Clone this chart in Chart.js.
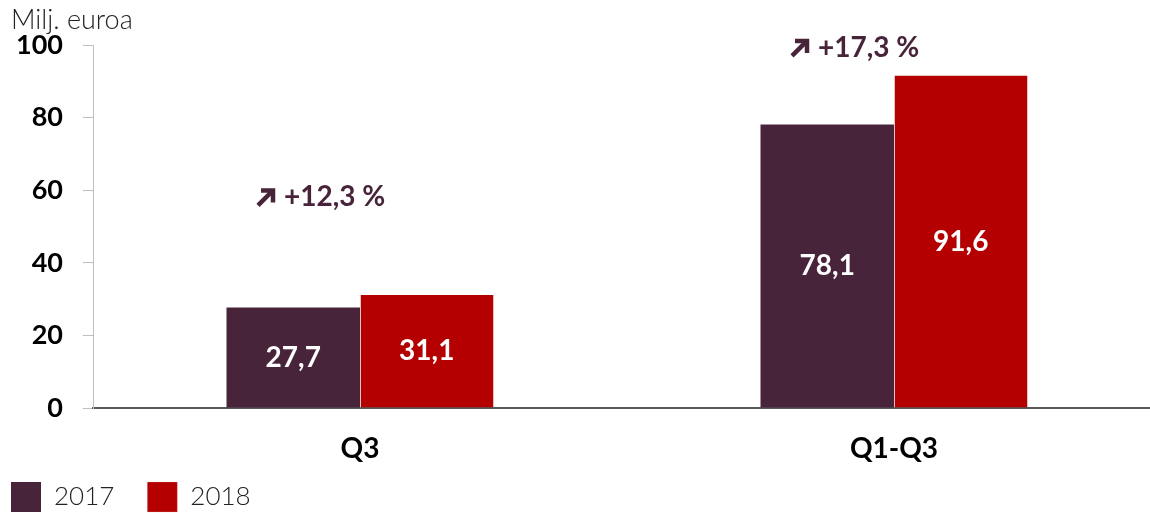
<!DOCTYPE html>
<html><head><meta charset="utf-8">
<script src="https://cdn.jsdelivr.net/npm/chart.js@4.4.1/dist/chart.umd.min.js"></script>
<style>html,body{margin:0;padding:0;overflow:hidden;background:#fff;width:1150px;height:513px}
canvas{display:block}</style></head>
<body><canvas id="c" width="1161" height="513"></canvas>
<script>
const categories = ['Q3', 'Q1-Q3'];
const seriesNames = ['2017', '2018'];
const values2017 = [27.7, 78.1];
const values2018 = [31.1, 91.6];
const changeLabels = ['+12,3 %', '+17,3 %'];
const changeLabelValues = [58, 99.2];
const yTicks = [0, 20, 40, 60, 80, 100];
const unitLabel = 'Milj. euroa';

const colors = ['#48243A', '#B40000'];
const FONT = 'Lato, "Open Sans", sans-serif';
const fmt = v => v.toFixed(1).replace('.', ',');

const barLabels = {
  id: 'barLabels',
  afterDatasetsDraw(chart) {
    const ctx = chart.ctx;
    ctx.save();
    ctx.fillStyle = '#fff';
    ctx.font = 'bold 28px ' + FONT;
    ctx.textAlign = 'center';
    ctx.textBaseline = 'middle';
    chart.data.datasets.forEach((ds, di) => {
      chart.getDatasetMeta(di).data.forEach((bar, i) => {
        ctx.fillText(fmt(ds.data[i]), bar.x, (bar.y + bar.base) / 2);
      });
    });
    ctx.restore();
  }
};

const changeNotes = {
  id: 'changeNotes',
  afterDatasetsDraw(chart) {
    const ctx = chart.ctx;
    const xs = chart.scales.x, ys = chart.scales.y;
    ctx.save();
    ctx.strokeStyle = colors[0];
    ctx.fillStyle = colors[0];
    changeLabels.forEach((t, i) => {
      const cx = xs.getPixelForValue(i) - 103;
      const cy = ys.getPixelForValue(changeLabelValues[i]);
      const s = 18;
      const x0 = cx, y0 = cy + 9;
      ctx.lineWidth = 4.5;
      ctx.lineJoin = 'miter';
      ctx.beginPath();
      ctx.moveTo(x0 + 1, y0 - 1);
      ctx.lineTo(x0 + s - 3, y0 - s + 3);
      ctx.stroke();
      ctx.beginPath();
      ctx.moveTo(x0 + s - 14, y0 - s + 2);
      ctx.lineTo(x0 + s - 2, y0 - s + 2);
      ctx.lineTo(x0 + s - 2, y0 - s + 14);
      ctx.stroke();
      ctx.font = 'bold 28px ' + FONT;
      ctx.textAlign = 'left';
      ctx.textBaseline = 'middle';
      ctx.fillText(t, cx + 27, cy);
    });
    ctx.restore();
  }
};

const legendShift = {
  id: 'legendShift',
  afterLayout(chart) {
    chart.legend.left -= 33;
    chart.legend.top -= 29;
  }
};

new Chart(document.getElementById('c'), {
  type: 'bar',
  data: {
    labels: categories,
    datasets: [
      { label: seriesNames[0], data: values2017, backgroundColor: colors[0] },
      { label: seriesNames[1], data: values2018, backgroundColor: colors[1],
        borderColor: '#E8C0C0', borderWidth: { left: 1, top: 0, right: 0, bottom: 0 }, borderSkipped: false }
    ]
  },
  options: {
    responsive: false,
    animation: false,
    devicePixelRatio: 1,
    layout: { padding: { left: 11, right: 0, top: 0, bottom: -38 } },
    datasets: { bar: { categoryPercentage: 0.5, barPercentage: 1.0 } },
    plugins: {
      tooltip: { enabled: false },
      title: {
        display: true, text: unitLabel, align: 'start', color: '#222',
        font: { family: FONT, size: 27, weight: '300', lineHeight: 1.2 },
        padding: { top: 4, bottom: 8.6 }
      },
      legend: {
        position: 'bottom', align: 'start',
        labels: {
          boxWidth: 30, boxHeight: 30, padding: 33, color: '#222',
          font: { family: FONT, size: 26, weight: '300' }
        }
      }
    },
    scales: {
      x: {
        grid: { display: false, drawTicks: false },
        border: { display: true, color: '#595959', width: 2 },
        ticks: { color: '#000', padding: 24, font: { family: FONT, size: 28, weight: 'bold' } },
        afterFit(s) { s.height = 70; }
      },
      y: {
        min: 0, max: 100,
        afterBuildTicks(s) { s.ticks = yTicks.map(v => ({ value: v })); },
        grid: { display: true, drawOnChartArea: false, drawTicks: true, tickLength: 10, color: '#BFBFBF' },
        border: { display: true, color: '#BFBFBF', width: 1 },
        ticks: { color: '#000', padding: 20, font: { family: FONT, size: 27, weight: 'bold' } },
        afterFit(s) { s.width = 82; }
      }
    }
  },
  plugins: [barLabels, changeNotes, legendShift]
});
</script></body></html>
